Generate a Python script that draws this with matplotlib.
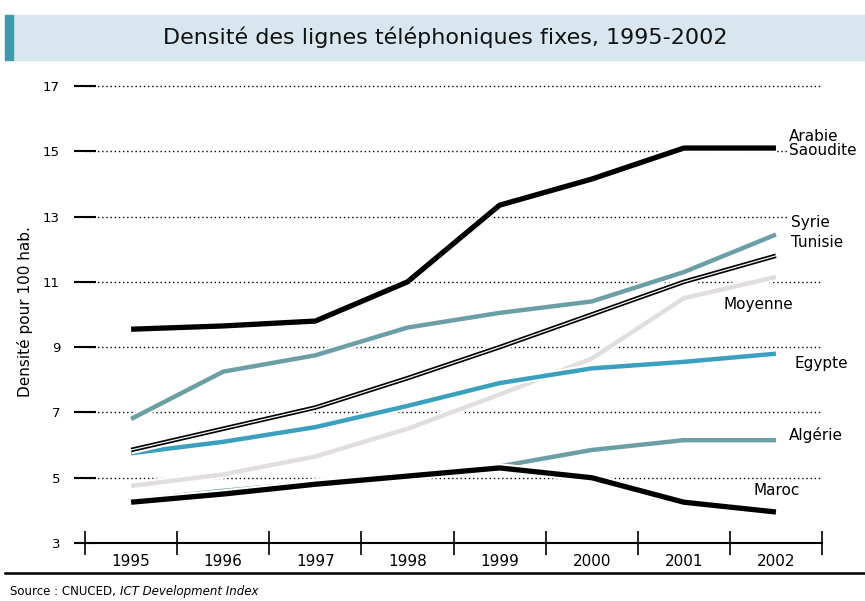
import matplotlib.pyplot as plt
from matplotlib.patches import Rectangle

years = [1995, 1996, 1997, 1998, 1999, 2000, 2001, 2002]
year_labels = [str(y) for y in years]

arabie = [9.55, 9.65, 9.8, 11.0, 13.35, 14.15, 15.1, 15.1]
syrie = [6.8, 8.25, 8.75, 9.6, 10.05, 10.4, 11.3, 12.45]
tunisie = [5.85, 6.5, 7.15, 8.05, 9.0, 10.0, 11.0, 11.8]
egypte = [5.75, 6.1, 6.55, 7.2, 7.9, 8.35, 8.55, 8.8]
moyenne = [4.75, 5.1, 5.65, 6.5, 7.55, 8.65, 10.5, 11.15]
algerie = [4.3, 4.6, 4.85, 5.1, 5.35, 5.85, 6.15, 6.15]
maroc = [4.25, 4.5, 4.8, 5.05, 5.3, 5.0, 4.25, 3.95]

y_ticks = [3, 5, 7, 9, 11, 13, 15, 17]

plt.rcParams['font.family'] = ['DejaVu Sans Condensed', 'Liberation Sans Narrow',
                               'DejaVu Sans']

fig = plt.figure(figsize=(8.65, 6.01), dpi=100)

# title band
fig.patches.append(Rectangle((0.006, 1 - 60 / 601), 0.994, 45 / 601,
                             transform=fig.transFigure, color='#d8e7ef', zorder=0))
fig.patches.append(Rectangle((0.006, 1 - 60 / 601), 0.009, 45 / 601,
                             transform=fig.transFigure, color='#3d9bab', zorder=1))
fig.text(0.515, 1 - 37 / 601, 'Densité des lignes téléphoniques fixes, 1995-2002',
         ha='center', va='center', fontsize=16, color='#111111')

ax = fig.add_axes([0.0983, 0.0965, 0.852, 0.7712])
ax.set_xlim(1994.5, 2002.5)
ax.set_ylim(3, 17.2)

for s in ['top', 'right', 'left']:
    ax.spines[s].set_visible(False)
ax.spines['bottom'].set_linewidth(1.5)

ax.set_yticks(y_ticks)
ax.set_yticklabels([str(v) for v in y_ticks], fontsize=9.5)
ax.tick_params(axis='y', direction='inout', length=16, width=1.5, pad=10)
ax.yaxis.grid(True, linestyle=(0, (1, 2)), color='black', linewidth=1.0)
ax.set_axisbelow(True)

ax.set_xticks(years)
ax.set_xticklabels(year_labels, fontsize=11)
ax.tick_params(axis='x', which='major', length=0, pad=8)
ax.set_xticks([y - 0.5 for y in years] + [2002.5], minor=True)
ax.tick_params(axis='x', which='minor', direction='inout', length=17, width=1.2)

ax.set_ylabel('Densité pour 100 hab.', fontsize=11, labelpad=7)


def draw(vals, color, lw, z):
    ax.plot(years, vals, color='white', lw=lw + 3, solid_capstyle='butt', zorder=z)
    ax.plot(years, vals, color=color, lw=lw, solid_capstyle='butt', zorder=z + 0.1)


draw(moyenne, '#e2dede', 3.2, 3)
draw(algerie, '#6c9ea6', 3.2, 3.5)
draw(maroc, 'black', 3.8, 4)
draw(egypte, '#3aa0be', 3.2, 4.5)
draw(syrie, '#6c9ea6', 3.2, 5)
draw(tunisie, 'black', 3.3, 5.5)
ax.plot(years, tunisie, color='#eef4f6', lw=0.9, zorder=6)
draw(arabie, 'black', 3.8, 6.5)

bbox = dict(facecolor='white', edgecolor='none', pad=1)
labels = [
    (2002.14, 15.25, 'Arabie\nSaoudite'),
    (2002.16, 12.83, 'Syrie'),
    (2002.16, 12.22, 'Tunisie'),
    (2001.43, 10.3, 'Moyenne'),
    (2002.2, 8.5, 'Egypte'),
    (2002.14, 6.3, 'Algérie'),
    (2001.76, 4.62, 'Maroc'),
]
for x, y, t in labels:
    ax.text(x, y, t, ha='left', va='center', fontsize=11, linespacing=0.9,
            bbox=bbox, clip_on=False, zorder=7)

# bottom rule and source
fig.add_artist(plt.Line2D([0.006, 1.0], [1 - 573 / 601] * 2, color='black', lw=1.8))
src = fig.text(0.012, 1 - 591 / 601, 'Source : CNUCED, ', fontsize=8.5, va='center')
ax.annotate('ICT Development Index', xy=(1, 0.5), xycoords=src, va='center',
            fontsize=8.5, style='italic', annotation_clip=False)

fig.savefig('out.png', dpi=100)
